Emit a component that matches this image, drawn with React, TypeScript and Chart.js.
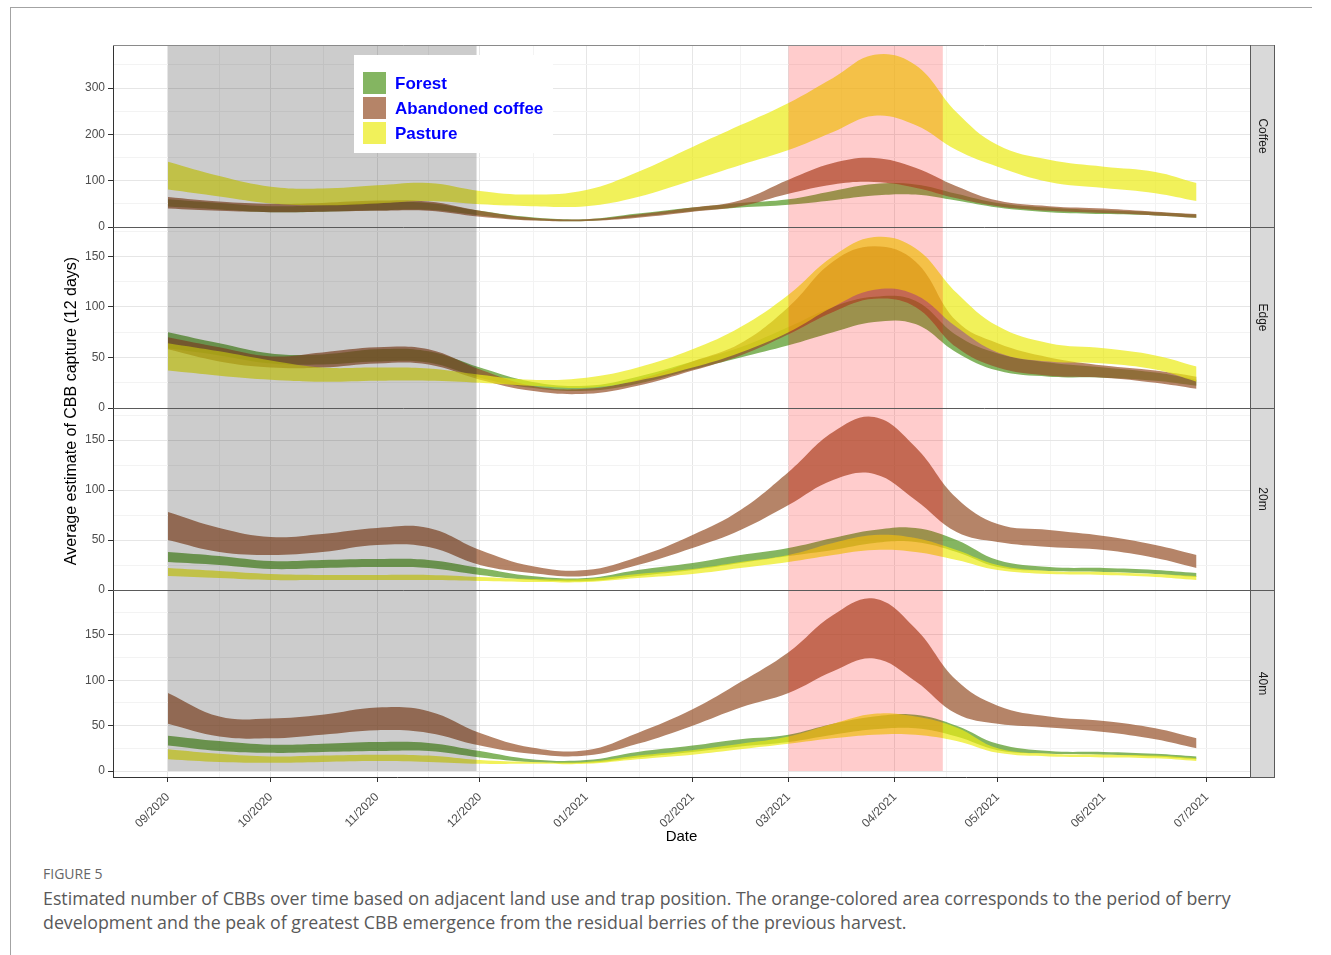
import React, { useEffect, useRef } from 'react';
import { Chart, registerables } from 'chart.js';

Chart.register(...registerables);

// ---------- data ----------
// days since 1 Sep 2020
const days = [0, 15, 30, 45, 61, 76, 91, 106, 122, 137, 153, 167, 181, 194, 206, 218, 230, 242, 257, 273, 288, 300];

const monthTickDays = [0, 30, 61, 91, 122, 153, 181, 212, 242, 273, 303];
const monthLabels = ['09/2020', '10/2020', '11/2020', '12/2020', '01/2021', '02/2021', '03/2021', '04/2021', '05/2021', '06/2021', '07/2021'];
const minorTickDays = [15, 45.5, 76, 106.5, 137.5, 167, 196.5, 227, 257.5, 288];

const seriesNames = ['Forest', 'Abandoned coffee', 'Pasture'];
const seriesColors = ['rgba(80,150,30,0.7)', 'rgba(150,80,40,0.7)', 'rgba(235,235,20,0.7)'];

const panelLabels = ['Coffee', 'Edge', '20m', '40m'];
const panelIds = ['yCoffee', 'yEdge', 'y20', 'y40'];
const panelMajorTicks = [[0, 100, 200, 300], [0, 50, 100, 150], [0, 50, 100, 150], [0, 50, 100, 150]];
const panelMinorTicks = [[50, 150, 250, 350], [25, 75, 125, 175], [25, 75, 125, 175], [25, 75, 125, 175]];
const panelMin = [0, 0, 0, -6.6];
const panelMax = [393, 179, 182, 199.5];
const panelHeights = [182, 181, 182, 187];

const grayPeriod = [0, 90];   // Sep–Nov 2020
const pinkPeriod = [181, 226]; // 1 Mar – 15 Apr 2021

// Coffee panel
const coffeeForestLow = [44, 38, 32, 33, 36, 37, 25, 15, 13, 22, 34, 42, 48, 58, 68, 70, 57, 42, 32, 28, 25, 20];
const coffeeForestHigh = [60, 52, 45, 47, 52, 52, 35, 21, 17, 29, 42, 52, 60, 78, 93, 92, 72, 52, 42, 36, 32, 27];
const coffeeAbandonedLow = [40, 35, 32, 33, 35, 35, 22, 14, 13, 20, 33, 45, 72, 92, 97, 85, 62, 45, 35, 30, 25, 20];
const coffeeAbandonedHigh = [65, 55, 50, 52, 57, 55, 35, 20, 17, 27, 42, 58, 102, 138, 149, 128, 88, 57, 45, 40, 33, 28];
const coffeePastureLow = [81, 66, 51, 47, 51, 56, 49, 45, 45, 65, 101, 134, 166, 205, 240, 220, 166, 130, 97, 84, 73, 56];
const coffeePastureHigh = [141, 110, 87, 83, 90, 95, 78, 70, 80, 119, 173, 220, 268, 322, 372, 350, 248, 177, 145, 130, 119, 95];

// Edge panel
const edgeForestLow = [59, 52, 44, 43, 46, 45, 30, 20, 17, 24, 38, 50, 62, 75, 85, 83, 55, 37, 31, 30, 27, 22];
const edgeForestHigh = [75, 64, 54, 53, 58, 56, 40, 26, 22, 31, 46, 60, 80, 100, 110, 106, 72, 54, 45, 40, 35, 28];
const edgeAbandonedLow = [58, 46, 40, 40, 44, 43, 28, 17, 14, 22, 37, 52, 73, 95, 108, 100, 60, 40, 32, 30, 25, 19];
const edgeAbandonedHigh = [70, 60, 51, 55, 60, 58, 38, 22, 19, 28, 46, 64, 100, 145, 160, 145, 86, 64, 50, 42, 37, 31];
const edgePastureLow = [37, 32, 28, 26, 27, 27, 25, 22, 20, 27, 40, 55, 75, 100, 117, 112, 80, 55, 46, 44, 38, 26];
const edgePastureHigh = [64, 56, 47, 40, 40, 39, 33, 28, 30, 40, 58, 80, 112, 150, 169, 158, 114, 81, 64, 59, 52, 41];

// 20m panel
const m20ForestLow = [28, 25, 21, 22, 23, 22, 15, 10, 9, 14, 20, 27, 34, 40, 47, 48, 38, 23, 19, 18, 16, 13];
const m20ForestHigh = [38, 34, 29, 30, 31, 30, 22, 14, 12, 20, 27, 35, 42, 52, 60, 62, 50, 30, 23, 22, 20, 17];
const m20AbandonedLow = [50, 38, 35, 38, 45, 43, 25, 17, 14, 25, 42, 60, 85, 110, 116, 90, 58, 48, 43, 40, 32, 22];
const m20AbandonedHigh = [78, 62, 53, 56, 62, 62, 40, 24, 20, 33, 55, 80, 118, 158, 173, 143, 92, 66, 60, 54, 45, 35];
const m20PastureLow = [14, 12, 10, 10, 10, 10, 9, 8, 8, 12, 16, 22, 28, 35, 40, 38, 30, 20, 16, 15, 13, 10];
const m20PastureHigh = [22, 19, 16, 15, 15, 15, 13, 11, 11, 16, 21, 28, 35, 47, 55, 52, 40, 25, 19, 18, 16, 14];

// 40m panel
const m40ForestLow = [28, 22, 20, 21, 22, 22, 15, 10, 9, 15, 21, 27, 32, 40, 46, 47, 38, 23, 19, 18, 16, 13];
const m40ForestHigh = [39, 33, 29, 30, 32, 31, 22, 13, 12, 21, 28, 35, 40, 52, 60, 62, 50, 30, 22, 21, 19, 16];
const m40AbandonedLow = [52, 38, 36, 40, 45, 42, 28, 19, 17, 30, 50, 70, 86, 110, 124, 99, 63, 52, 48, 43, 35, 25];
const m40AbandonedHigh = [86, 60, 58, 62, 70, 66, 42, 26, 23, 42, 68, 98, 131, 172, 190, 157, 100, 72, 60, 55, 47, 36];
const m40PastureLow = [13, 10, 9, 10, 11, 10, 8, 8, 8, 13, 18, 24, 30, 36, 40, 40, 33, 20, 16, 15, 14, 11];
const m40PastureHigh = [24, 19, 16, 17, 18, 17, 12, 10, 10, 17, 23, 30, 38, 52, 63, 60, 48, 25, 19, 18, 17, 14];

const panelBands = [
  [[coffeeForestLow, coffeeForestHigh], [coffeeAbandonedLow, coffeeAbandonedHigh], [coffeePastureLow, coffeePastureHigh]],
  [[edgeForestLow, edgeForestHigh], [edgeAbandonedLow, edgeAbandonedHigh], [edgePastureLow, edgePastureHigh]],
  [[m20ForestLow, m20ForestHigh], [m20AbandonedLow, m20AbandonedHigh], [m20PastureLow, m20PastureHigh]],
  [[m40ForestLow, m40ForestHigh], [m40AbandonedLow, m40AbandonedHigh], [m40PastureLow, m40PastureHigh]],
];

// ---------- layout constants ----------
const FONT = "'Liberation Sans', Arial, sans-serif";
const CANVAS_W = 1331;
const CANVAS_H = 860;
const PLOT_LEFT = 113;
const PLOT_TOP = 45;
const STRIP_W = 25;
const RIGHT_PAD = 81;
const X_AXIS_H = 83;
const X_MIN = -16.04;
const X_MAX = 315.6;

function buildDatasets() {
  const ds: any[] = [];
  panelIds.forEach((id, p) => {
    // Pasture first so that it is drawn on top (Chart.js draws index 0 last)
    [2, 1, 0].forEach((s) => {
      const [lo, hi] = panelBands[p][s];
      const common = {
        yAxisID: id,
        xAxisID: 'x',
        borderWidth: 0,
        borderColor: 'rgba(0,0,0,0)',
        pointRadius: 0,
        pointHoverRadius: 0,
        tension: 0.4,
      };
      ds.push({ ...common, label: `${panelLabels[p]} ${seriesNames[s]} low`, data: days.map((d, i) => ({ x: d, y: lo[i] })), fill: false });
      ds.push({ ...common, label: `${panelLabels[p]} ${seriesNames[s]}`, data: days.map((d, i) => ({ x: d, y: hi[i] })), fill: '-1', backgroundColor: seriesColors[s] });
    });
  });
  return ds;
}

function buildScales() {
  const scales: any = {
    x: {
      type: 'linear',
      position: 'bottom',
      min: X_MIN,
      max: X_MAX,
      bounds: 'data',
      afterBuildTicks: (axis: any) => {
        axis.ticks = [...monthTickDays, ...minorTickDays].sort((a, b) => a - b).map((v) => ({ value: v }));
      },
      afterFit: (axis: any) => {
        axis.height = X_AXIS_H;
      },
      ticks: {
        autoSkip: false,
        minRotation: 45,
        maxRotation: 45,
        padding: 8,
        color: '#4d4d4d',
        font: { family: FONT, size: 12 },
        callback: (v: number) => {
          const k = monthTickDays.indexOf(v);
          return k >= 0 ? monthLabels[k] : '';
        },
      },
      grid: {
        color: (c: any) => (c.tick && monthTickDays.includes(c.tick.value) ? '#e6e6e6' : '#f3f3f3'),
        lineWidth: 1,
        tickLength: 5,
        tickColor: (c: any) => (c.tick && monthTickDays.includes(c.tick.value) ? '#333333' : 'rgba(0,0,0,0)'),
      },
      border: { display: true, color: '#333333', width: 1 },
    },
  };
  panelIds.forEach((id, p) => {
    const majors = panelMajorTicks[p];
    const minors = panelMinorTicks[p];
    scales[id] = {
      type: 'linear',
      position: 'left',
      stack: 'panels',
      stackWeight: panelHeights[p],
      weight: 4 - p,
      min: panelMin[p],
      max: panelMax[p],
      bounds: 'data',
      afterBuildTicks: (axis: any) => {
        axis.ticks = [...majors, ...minors].sort((a, b) => a - b).map((v) => ({ value: v }));
      },
      afterFit: (axis: any) => {
        axis.width = PLOT_LEFT;
      },
      ticks: {
        autoSkip: false,
        padding: 3,
        color: '#4d4d4d',
        font: { family: FONT, size: 12 },
        callback: (v: number) => (majors.includes(v) ? String(v) : ''),
      },
      grid: {
        color: (c: any) => (c.tick && majors.includes(c.tick.value) ? '#e6e6e6' : '#f3f3f3'),
        lineWidth: 1,
        tickLength: 5,
        tickColor: (c: any) => (c.tick && majors.includes(c.tick.value) ? '#333333' : 'rgba(0,0,0,0)'),
      },
      border: { display: true, color: '#333333', width: 1 },
    };
  });
  return scales;
}

const decorPlugin = {
  id: 'facetDecor',
  afterDatasetsDraw(chart: any) {
    const { ctx, chartArea, scales } = chart;
    const x = scales.x;
    const bottom = scales.y40.getPixelForValue(0);
    ctx.save();
    const gx0 = x.getPixelForValue(grayPeriod[0]);
    const gx1 = x.getPixelForValue(grayPeriod[1]);
    ctx.fillStyle = 'rgba(0,0,0,0.2)';
    ctx.fillRect(gx0, chartArea.top, gx1 - gx0, bottom - chartArea.top);
    const px0 = x.getPixelForValue(pinkPeriod[0]);
    const px1 = x.getPixelForValue(pinkPeriod[1]);
    ctx.fillStyle = 'rgba(255,0,0,0.2)';
    ctx.fillRect(px0, chartArea.top, px1 - px0, bottom - chartArea.top);
    ctx.restore();
  },
  afterDraw(chart: any) {
    const { ctx, chartArea, scales } = chart;
    const left = chartArea.left;
    const right = chartArea.right;
    const stripRight = right + STRIP_W;
    ctx.save();

    // strips
    panelIds.forEach((id, p) => {
      const s = scales[id];
      ctx.fillStyle = '#d9d9d9';
      ctx.fillRect(right, s.top, STRIP_W, s.bottom - s.top);
      ctx.save();
      ctx.translate(right + STRIP_W / 2, (s.top + s.bottom) / 2);
      ctx.rotate(Math.PI / 2);
      ctx.fillStyle = '#1a1a1a';
      ctx.font = `12px ${FONT}`;
      ctx.textAlign = 'center';
      ctx.textBaseline = 'middle';
      ctx.fillText(panelLabels[p], 0, 0);
      ctx.restore();
    });

    ctx.lineWidth = 1;
    // top border
    ctx.strokeStyle = '#8a8a8a';
    ctx.beginPath();
    ctx.moveTo(left, Math.round(chartArea.top) + 0.5);
    ctx.lineTo(stripRight, Math.round(chartArea.top) + 0.5);
    ctx.stroke();

    // panel separators (y = 0 lines)
    ctx.strokeStyle = '#5a5a5a';
    for (let p = 0; p < 3; p++) {
      const y = Math.round(scales[panelIds[p]].getPixelForValue(0)) + 0.5;
      ctx.beginPath();
      ctx.moveTo(left, y);
      ctx.lineTo(stripRight, y);
      ctx.stroke();
    }
    // strip borders
    ctx.strokeStyle = '#5a5a5a';
    ctx.beginPath();
    ctx.moveTo(Math.round(right) + 0.5, chartArea.top);
    ctx.lineTo(Math.round(right) + 0.5, chartArea.bottom);
    ctx.moveTo(Math.round(stripRight) - 0.5, chartArea.top);
    ctx.lineTo(Math.round(stripRight) - 0.5, chartArea.bottom);
    ctx.moveTo(right, Math.round(chartArea.bottom) + 0.5);
    ctx.lineTo(stripRight, Math.round(chartArea.bottom) + 0.5);
    ctx.stroke();

    // legend
    const lx = 354, ly = 55;
    ctx.fillStyle = '#ffffff';
    ctx.fillRect(lx, ly, 199, 98);
    ctx.font = `bold 17px ${FONT}`;
    ctx.textAlign = 'left';
    ctx.textBaseline = 'middle';
    seriesNames.forEach((name, i) => {
      const sy = 72 + i * 25;
      ctx.fillStyle = seriesColors[i];
      ctx.fillRect(363, sy, 23, 22);
      ctx.fillStyle = '#0000ff';
      ctx.fillText(name, 395, sy + 12);
    });

    // axis titles
    ctx.fillStyle = '#000000';
    ctx.font = `15px ${FONT}`;
    ctx.textAlign = 'center';
    ctx.textBaseline = 'middle';
    ctx.fillText('Date', (left + right) / 2, 837);
    ctx.save();
    ctx.translate(72, (chartArea.top + chartArea.bottom) / 2);
    ctx.rotate(-Math.PI / 2);
    ctx.font = `16px ${FONT}`;
    ctx.fillText('Average estimate of CBB capture (12 days)', 0, 0);
    ctx.restore();

    ctx.restore();
  },
};

export default function App() {
  const ref = useRef<HTMLCanvasElement | null>(null);
  useEffect(() => {
    document.body.style.margin = '0';
    const canvas = ref.current;
    if (!canvas) return;
    const chart = new Chart(canvas, {
      type: 'line',
      data: { datasets: buildDatasets() },
      options: {
        animation: false,
        responsive: false,
        events: [],
        layout: { padding: { top: PLOT_TOP, right: RIGHT_PAD, bottom: 0, left: 0 } },
        plugins: {
          legend: { display: false },
          tooltip: { enabled: false },
          title: { display: false },
        },
        scales: buildScales(),
      },
      plugins: [decorPlugin],
    } as any);
    return () => chart.destroy();
  }, []);

  return (
    <div style={{ position: 'relative', width: 1331, height: 955, background: '#ffffff', overflow: 'hidden' }}>
      <div
        style={{
          position: 'absolute',
          left: 10,
          top: 7,
          width: 1301,
          height: 960,
          borderLeft: '1px solid #a3a3a3',
          borderTop: '1px solid #a3a3a3',
        }}
      />
      <canvas
        ref={ref}
        width={CANVAS_W}
        height={CANVAS_H}
        style={{ position: 'absolute', left: 0, top: 0, width: CANVAS_W, height: CANVAS_H, display: 'block' }}
      />
      <div
        style={{
          position: 'absolute',
          left: 43,
          top: 865,
          fontFamily: "'Open Sans', sans-serif",
          fontSize: 14,
          color: '#666666',
          lineHeight: '18px',
          whiteSpace: 'nowrap',
        }}
      >
        FIGURE 5
      </div>
      <div
        style={{
          position: 'absolute',
          left: 43,
          top: 886,
          fontFamily: "'Open Sans', sans-serif",
          fontSize: 17.8,
          color: '#595959',
          lineHeight: '24px',
          whiteSpace: 'nowrap',
        }}
      >
        Estimated number of CBBs over time based on adjacent land use and trap position. The orange-colored area corresponds to the period of berry
        <br />
        development and the peak of greatest CBB emergence from the residual berries of the previous harvest.
      </div>
    </div>
  );
}
